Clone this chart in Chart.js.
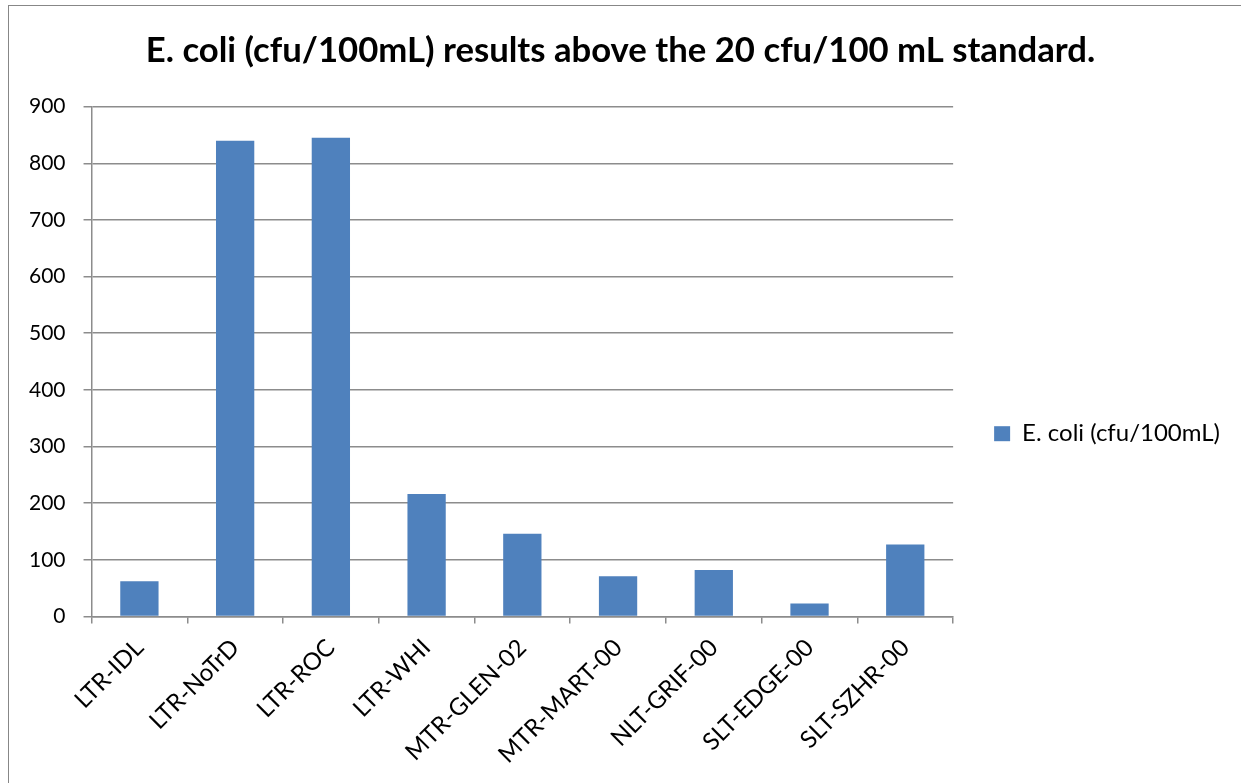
<!DOCTYPE html>
<html>
<head>
<meta charset="utf-8">
<script src="https://cdn.jsdelivr.net/npm/chart.js@4"></script>
<style>
  html, body { margin: 0; padding: 0; background: #fff; }
  #wrap { position: relative; width: 1241px; height: 783px; overflow: hidden; }
  #frame { position: absolute; left: 8px; top: 5px; width: 1260px; height: 800px;
           border: 1px solid #878787; pointer-events: none; }
  canvas { position: absolute; left: 0; top: 0; }
</style>
</head>
<body>
<div id="wrap">
  <canvas id="chart" width="1241" height="783"></canvas>
  <div id="frame"></div>
</div>
<script>
// sites + e. coli counts
const sites = ["LTR-IDL", "LTR-NoTrD", "LTR-ROC", "LTR-WHI", "MTR-GLEN-02",
               "MTR-MART-00", "NLT-GRIF-00", "SLT-EDGE-00", "SLT-SZHR-00"];
const ecoli = [62, 840, 845, 216, 146, 71, 82, 23, 127];
const seriesName = "E. coli (cfu/100mL)";
const chartTitle = "E. coli (cfu/100mL) results above the 20 cfu/100 mL standard.";
const yMax = 900;
const yStep = 100;

const font = "Lato, 'Liberation Sans', sans-serif";
const gridColor = "#8c8c8c";

new Chart(document.getElementById("chart").getContext("2d"), {
  type: "bar",
  data: {
    labels: sites,
    datasets: [{
      label: seriesName,
      data: ecoli,
      backgroundColor: "#4f81bd",
      borderWidth: 0,
      categoryPercentage: 0.8,
      barPercentage: 0.5,
    }],
  },
  options: {
    responsive: false,
    animation: false,
    layout: { padding: { left: 11, right: 11, top: 14, bottom: 4 } },
    plugins: {
      title: {
        display: true,
        text: chartTitle,
        color: "#000",
        font: { family: font, size: 34.7, weight: "bold" },
        padding: { top: 16, bottom: 35 },
      },
      legend: {
        position: "right",
        // empty legend title just nudges the entry down to where it sits in the original
        title: { display: true, text: "", padding: 30 },
        labels: {
          color: "#000",
          font: { family: font, size: 24 },
          boxWidth: 16,
          boxHeight: 15,
          padding: 41,
        },
      },
      tooltip: { enabled: false },
    },
    scales: {
      y: {
        min: 0,
        max: yMax,
        ticks: { stepSize: yStep, color: "#000", font: { family: font, size: 21 }, padding: 18 },
        grid: { color: gridColor, lineWidth: 1.5, tickLength: 8 },
        border: { color: gridColor, width: 1.5 },
      },
      x: {
        ticks: { color: "#000", font: { family: font, size: 24 },
                 maxRotation: 45, minRotation: 45, padding: 10 },
        grid: { color: gridColor, lineWidth: 1.5, drawOnChartArea: false, tickLength: 7, offset: true },
        border: { color: gridColor, width: 1.5 },
      },
    },
  },
});
</script>
</body>
</html>
